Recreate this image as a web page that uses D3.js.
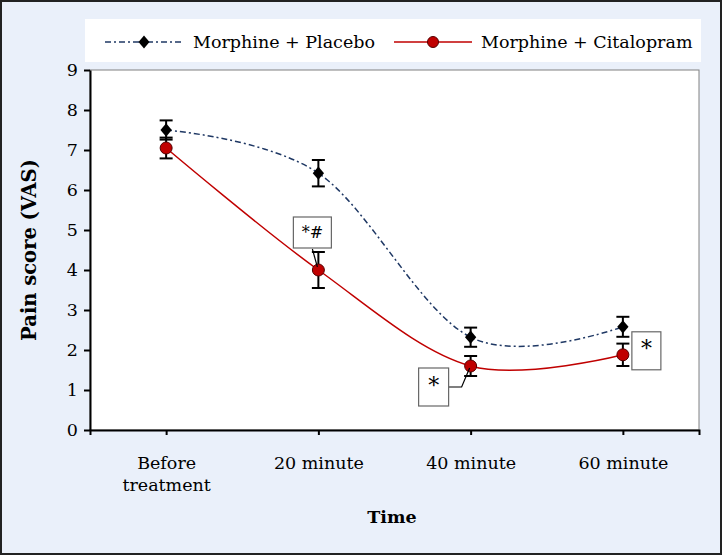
<!DOCTYPE html>
<html>
<head>
<meta charset="utf-8">
<script src="https://cdn.jsdelivr.net/npm/d3@7"></script>
<style>
  body { margin: 0; background: #fff; }
  text { font-family: "DejaVu Serif", serif; }
</style>
</head>
<body>
<div id="chart"></div>
<script>
const categories = ["Before treatment", "20 minute", "40 minute", "60 minute"];
const placebo = [7.5, 6.42, 2.32, 2.58];
const placeboErr = [0.24, 0.33, 0.24, 0.25];
const citalopram = [7.05, 4.0, 1.6, 1.88];
const citalopramErr = [0.26, 0.45, 0.25, 0.28];
const yTicks = [0, 1, 2, 3, 4, 5, 6, 7, 8, 9];
const seriesNames = ["Morphine + Placebo", "Morphine + Citalopram"];
const marks = ["*#", "*", "*"]; // citalopram at 20, 40, 60 minute

const W = 724, H = 556;
const size = { left: 90, right: 699, top: 70, bottom: 430 };

// excel-like diamond: a bit wider than d3's
const diamond = {
  draw(ctx, s) {
    const h = Math.sqrt(s) * 0.72, w = h * 0.85;
    ctx.moveTo(0, -h); ctx.lineTo(w, 0); ctx.lineTo(0, h); ctx.lineTo(-w, 0); ctx.closePath();
  }
};

const svg = d3.select("#chart").append("svg")
  .attr("width", W).attr("height", H);

// background + frame
svg.append("rect").attr("x", 1).attr("y", 1).attr("width", 720).attr("height", 553)
  .attr("fill", "#eaf0fa").attr("stroke", "#222").attr("stroke-width", 2);

const x = d3.scalePoint().domain(categories).range([size.left, size.right]).padding(0.5);
const y = d3.scaleLinear().domain([0, 9]).range([size.bottom, size.top]);

// plot area
svg.append("rect")
  .attr("x", size.left).attr("y", size.top)
  .attr("width", size.right - size.left).attr("height", size.bottom - size.top)
  .attr("fill", "#fff").attr("stroke", "#808080").attr("stroke-width", 1);

// legend
const legend = svg.append("g");
legend.append("rect").attr("x", 85).attr("y", 19).attr("width", 616).attr("height", 43).attr("fill", "#fff");
const ly = 42;
legend.append("line").attr("x1", 105).attr("x2", 181).attr("y1", ly).attr("y2", ly)
  .attr("stroke", "#1f3864").attr("stroke-width", 1.5).attr("stroke-dasharray", "6,3,2,3");
legend.append("path").attr("d", d3.symbol(diamond, 80)()).attr("transform", `translate(144,${ly})`).attr("fill", "#000");
legend.append("text").attr("x", 193).attr("y", ly + 6).attr("font-size", 17.5).text(seriesNames[0]);
legend.append("line").attr("x1", 394).attr("x2", 472).attr("y1", ly).attr("y2", ly)
  .attr("stroke", "#c00000").attr("stroke-width", 1.5);
legend.append("circle").attr("cx", 433).attr("cy", ly).attr("r", 5.5)
  .attr("fill", "#c00000").attr("stroke", "#500").attr("stroke-width", 1);
legend.append("text").attr("x", 481).attr("y", ly + 6).attr("font-size", 17.5).text(seriesNames[1]);

// axes
const yAxis = svg.append("g").attr("transform", `translate(${size.left},0)`)
  .call(d3.axisLeft(y).tickValues(yTicks).tickSize(6).tickSizeOuter(0));
yAxis.select(".domain").attr("stroke", "#000").attr("stroke-width", 2);
yAxis.selectAll(".tick line").attr("stroke", "#000").attr("stroke-width", 2);
yAxis.selectAll(".tick text").attr("font-family", "DejaVu Serif").attr("font-size", 17.5)
  .attr("fill", "#000").attr("x", -12);

const xAxis = svg.append("g").attr("transform", `translate(0,${size.bottom})`)
  .call(d3.axisBottom(x).tickSize(5).tickSizeOuter(5));
xAxis.select(".domain").attr("stroke", "#000").attr("stroke-width", 2);
xAxis.selectAll(".tick line").attr("stroke", "#000").attr("stroke-width", 2);
xAxis.selectAll(".tick text").remove();
xAxis.selectAll(".tick").each(function(d) {
  const words = d === "Before treatment" ? ["Before", "treatment"] : [d];
  const t = d3.select(this).append("text").attr("text-anchor", "middle")
    .attr("font-family", "DejaVu Serif").attr("font-size", 17.5).attr("fill", "#000");
  words.forEach((w, i) => t.append("tspan").attr("x", 0).attr("y", 39 + i * 22).text(w));
});

svg.append("text").attr("transform", `translate(36,${(size.top + size.bottom) / 2}) rotate(-90)`)
  .attr("text-anchor", "middle").attr("font-weight", "bold").attr("font-size", 19.5)
  .text("Pain score (VAS)");
svg.append("text").attr("x", 392).attr("y", 523).attr("text-anchor", "middle")
  .attr("font-weight", "bold").attr("font-size", 17.5).text("Time");

// lines
const line = d3.line().x((d, i) => x(categories[i])).y(d => y(d)).curve(d3.curveCardinal.tension(0));
svg.append("path").attr("d", line(placebo)).attr("fill", "none")
  .attr("stroke", "#1f3864").attr("stroke-width", 1.5).attr("stroke-dasharray", "6,3,2,3");
svg.append("path").attr("d", line(citalopram)).attr("fill", "none")
  .attr("stroke", "#c00000").attr("stroke-width", 1.5);

// error bars
function errorBars(vals, errs) {
  const g = svg.append("g").attr("stroke", "#000").attr("stroke-width", 2);
  vals.forEach((v, i) => {
    const cx = x(categories[i]);
    g.append("line").attr("x1", cx).attr("x2", cx).attr("y1", y(v - errs[i])).attr("y2", y(v + errs[i]));
    [v - errs[i], v + errs[i]].forEach(e => {
      g.append("line").attr("x1", cx - 6.5).attr("x2", cx + 6.5).attr("y1", y(e)).attr("y2", y(e));
    });
  });
}
errorBars(placebo, placeboErr);
errorBars(citalopram, citalopramErr);

// markers
svg.append("g").selectAll("path").data(placebo).enter().append("path")
  .attr("d", d3.symbol(diamond, 85)())
  .attr("transform", (d, i) => `translate(${x(categories[i])},${y(d)})`)
  .attr("fill", "#000");
svg.append("g").selectAll("circle").data(citalopram).enter().append("circle")
  .attr("cx", (d, i) => x(categories[i])).attr("cy", d => y(d)).attr("r", 6)
  .attr("fill", "#c00000").attr("stroke", "#500").attr("stroke-width", 1);

// significance boxes
function box(bx, by, bw, bh, label, fs, ty) {
  const g = svg.append("g");
  g.append("rect").attr("x", bx).attr("y", by).attr("width", bw).attr("height", bh)
    .attr("fill", "#fff").attr("stroke", "#666").attr("stroke-width", 1.2);
  g.append("text").attr("x", bx + bw / 2).attr("y", by + ty).attr("text-anchor", "middle")
    .attr("font-family", "Liberation Sans").attr("font-size", fs).text(label);
}
const x20 = x(categories[1]), x40 = x(categories[2]), x60 = x(categories[3]);
svg.append("line").attr("x1", x20 - 6).attr("y1", y(citalopram[1] + citalopramErr[1]) - 3)
  .attr("x2", x20 - 1).attr("y2", y(citalopram[1]) - 3).attr("stroke", "#000").attr("stroke-width", 1.2);
box(x20 - 25, y(citalopram[1] + citalopramErr[1]) - 35, 38, 31, marks[0], 16, 21);
svg.append("polyline")
  .attr("points", `${x40 - 22},${y(citalopram[2]) + 21} ${x40 - 9},${y(citalopram[2]) + 21} ${x40 - 1},${y(citalopram[2]) + 2}`)
  .attr("fill", "none").attr("stroke", "#000").attr("stroke-width", 1.2);
box(x40 - 52, y(citalopram[2]) + 2, 30, 38, marks[1], 22, 25);
box(x60 + 9, y(citalopram[3]) - 23, 29, 38, marks[2], 22, 24);
</script>
</body>
</html>
